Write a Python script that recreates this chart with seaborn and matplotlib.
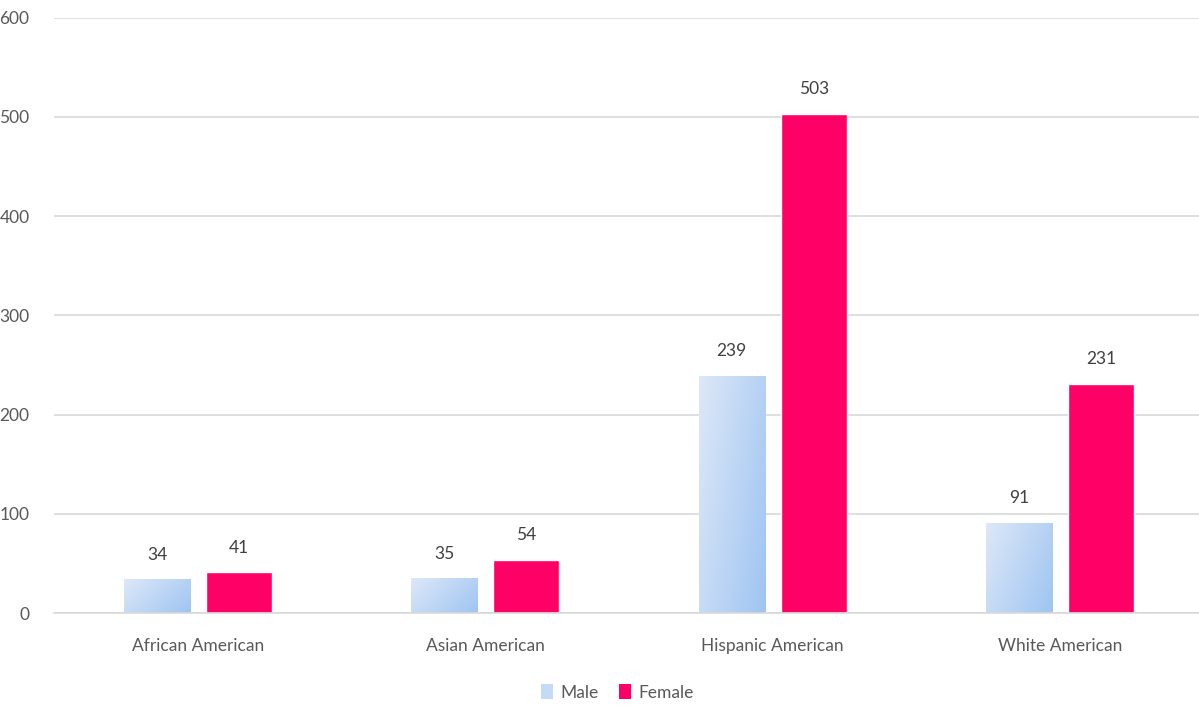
import numpy as np
import pandas as pd
import matplotlib.pyplot as plt
import seaborn as sns
from matplotlib.patches import Patch

groups = ['African American', 'Asian American', 'Hispanic American', 'White American']
male = [34, 35, 239, 91]
female = [41, 54, 503, 231]
series = ['Male', 'Female']

df = pd.DataFrame({
    'group': groups * 2,
    'count': male + female,
    'sex': ['Male'] * len(groups) + ['Female'] * len(groups),
})

sns.set_theme(style='white')
plt.rcParams['font.family'] = ['Lato', 'DejaVu Sans']
text_col = '#595959'

fig = plt.figure(figsize=(11.99, 7.08), dpi=100)
ax = fig.add_axes([0.0454, 0.134, 0.9584, 0.841])

pal = {'Male': '#c5daf6', 'Female': '#ff0066'}
sns.barplot(data=df, x='group', y='count', hue='sex', order=groups, hue_order=series,
            palette=pal, width=0.572, gap=0.196, saturation=1, legend=False, ax=ax)

# gradient fill for the male bars (light top-left -> darker bottom-right)
grad = np.linspace(0, 1, 256)
gx, gy = np.meshgrid(grad, grad)
g = gx * 0.65 + gy * 0.35
c0 = np.array([0.87, 0.91, 0.97])
c1 = np.array([0.62, 0.77, 0.95])
img = c0[None, None, :] * (1 - g[..., None]) + c1[None, None, :] * g[..., None]
for bar in ax.containers[0]:
    x0, y0 = bar.get_x(), bar.get_y()
    w, h = bar.get_width(), bar.get_height()
    bar.set_facecolor('none')
    bar.set_edgecolor('none')
    im = ax.imshow(img, extent=[x0, x0 + w, y0, y0 + h], origin='upper',
                   aspect='auto', zorder=bar.get_zorder())
    im.set_clip_path(bar)

for cont in ax.containers:
    ax.bar_label(cont, padding=12, fontsize=12.5, color='#404040')

ax.set_xlim(-0.5, 3.5)
ax.set_ylim(0, 600)
ax.set_yticks(range(0, 601, 100))
ax.yaxis.grid(True, color='#d9d9d9', linewidth=1.2)
ax.set_axisbelow(True)
for s in ['left', 'right', 'top']:
    ax.spines[s].set_visible(False)
ax.spines['bottom'].set_color('#d9d9d9')
ax.spines['bottom'].set_linewidth(1.2)
ax.tick_params(axis='y', length=0, pad=18, labelsize=12.5, labelcolor=text_col)
ax.tick_params(axis='x', length=0, pad=18, labelsize=12.5, labelcolor=text_col)
ax.set_xlabel('')
ax.set_ylabel('')

handles = [Patch(facecolor=pal[s], edgecolor='none') for s in series]
fig.legend(handles, series, loc='center', bbox_to_anchor=(0.515, 0.022), ncol=2,
           frameon=False, fontsize=12.5, labelcolor=text_col, handlelength=0.7,
           handleheight=0.9, handletextpad=0.4, columnspacing=1.2)

fig.savefig('out.png', dpi=100)
